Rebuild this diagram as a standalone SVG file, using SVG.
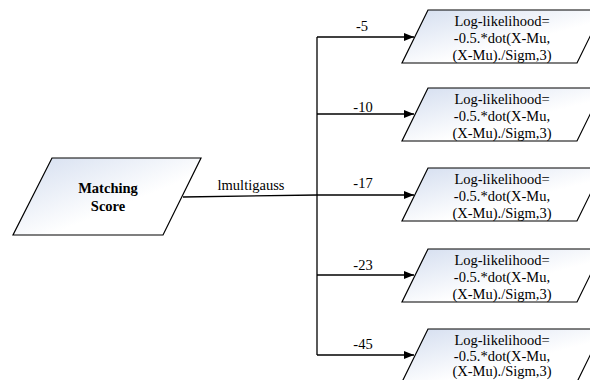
<svg xmlns="http://www.w3.org/2000/svg" width="590" height="380" viewBox="0 0 590 380">
<style>
.box{stroke:#000;stroke-width:1.2;fill:url(#g)}
.t{font-family:"Liberation Serif","Times New Roman",serif;font-size:14.5px;fill:#000;text-anchor:middle}
.b{font-weight:bold}
.c{fill:none;stroke:#000;stroke-width:1.3}
</style>
<defs>
<linearGradient id="g" x1="0" y1="0" x2="1" y2="1">
<stop offset="0" stop-color="#d3ddef"/>
<stop offset="0.6" stop-color="#ffffff"/>
</linearGradient>
<marker id="a" viewBox="0 0 10 8" refX="10" refY="4" markerWidth="10" markerHeight="8" markerUnits="userSpaceOnUse" orient="auto">
<path d="M0,0 L10,4 L0,8 z" fill="#000"/>
</marker>
</defs>
<rect width="590" height="380" fill="#fff"/>
<g id="connectors">
<path class="c" d="M183,197 L317,195"/>
<path class="c" d="M317,37 L317,355"/>
<path class="c" d="M317,37 L414,37" marker-end="url(#a)"/>
<path class="c" d="M317,114 L414,114" marker-end="url(#a)"/>
<path class="c" d="M317,195 L414,195" marker-end="url(#a)"/>
<path class="c" d="M317,275 L414,275" marker-end="url(#a)"/>
<path class="c" d="M317,355 L414,355" marker-end="url(#a)"/>
<text class="t" x="362" y="31">-5</text>
<text class="t" x="363" y="112">-10</text>
<text class="t" x="363" y="188">-17</text>
<text class="t" x="363" y="270">-23</text>
<text class="t" x="363" y="349">-45</text>
<text class="t" x="251" y="190">lmultigauss</text>
</g>
<g id="matching">
<polygon class="box" points="52,158 201,158 163,235 13,235"/>
<text class="t b" x="108" y="193">Matching</text>
<text class="t b" x="108" y="211">Score</text>
</g>
<g id="ll1">
<polygon class="box" points="428,10 603,10 577,63 402,63"/>
<text class="t" x="502" y="26">Log-likelihood=</text>
<text class="t" x="502" y="43">-0.5.*dot(X-Mu,</text>
<text class="t" x="502" y="60">(X-Mu)./Sigm,3)</text>
</g>
<g id="ll2">
<polygon class="box" points="428,88 603,88 577,141 402,141"/>
<text class="t" x="502" y="104">Log-likelihood=</text>
<text class="t" x="502" y="121">-0.5.*dot(X-Mu,</text>
<text class="t" x="502" y="138">(X-Mu)./Sigm,3)</text>
</g>
<g id="ll3">
<polygon class="box" points="428,168 603,168 577,221 402,221"/>
<text class="t" x="502" y="184">Log-likelihood=</text>
<text class="t" x="502" y="201">-0.5.*dot(X-Mu,</text>
<text class="t" x="502" y="218">(X-Mu)./Sigm,3)</text>
</g>
<g id="ll4">
<polygon class="box" points="428,249 603,249 577,302 402,302"/>
<text class="t" x="502" y="265">Log-likelihood=</text>
<text class="t" x="502" y="282">-0.5.*dot(X-Mu,</text>
<text class="t" x="502" y="299">(X-Mu)./Sigm,3)</text>
</g>
<g id="ll5">
<polygon class="box" points="428,329 603,329 577,382 402,382"/>
<text class="t" x="502" y="345">Log-likelihood=</text>
<text class="t" x="502" y="361">-0.5.*dot(X-Mu,</text>
<text class="t" x="502" y="376">(X-Mu)./Sigm,3)</text>
</g>
</svg>
